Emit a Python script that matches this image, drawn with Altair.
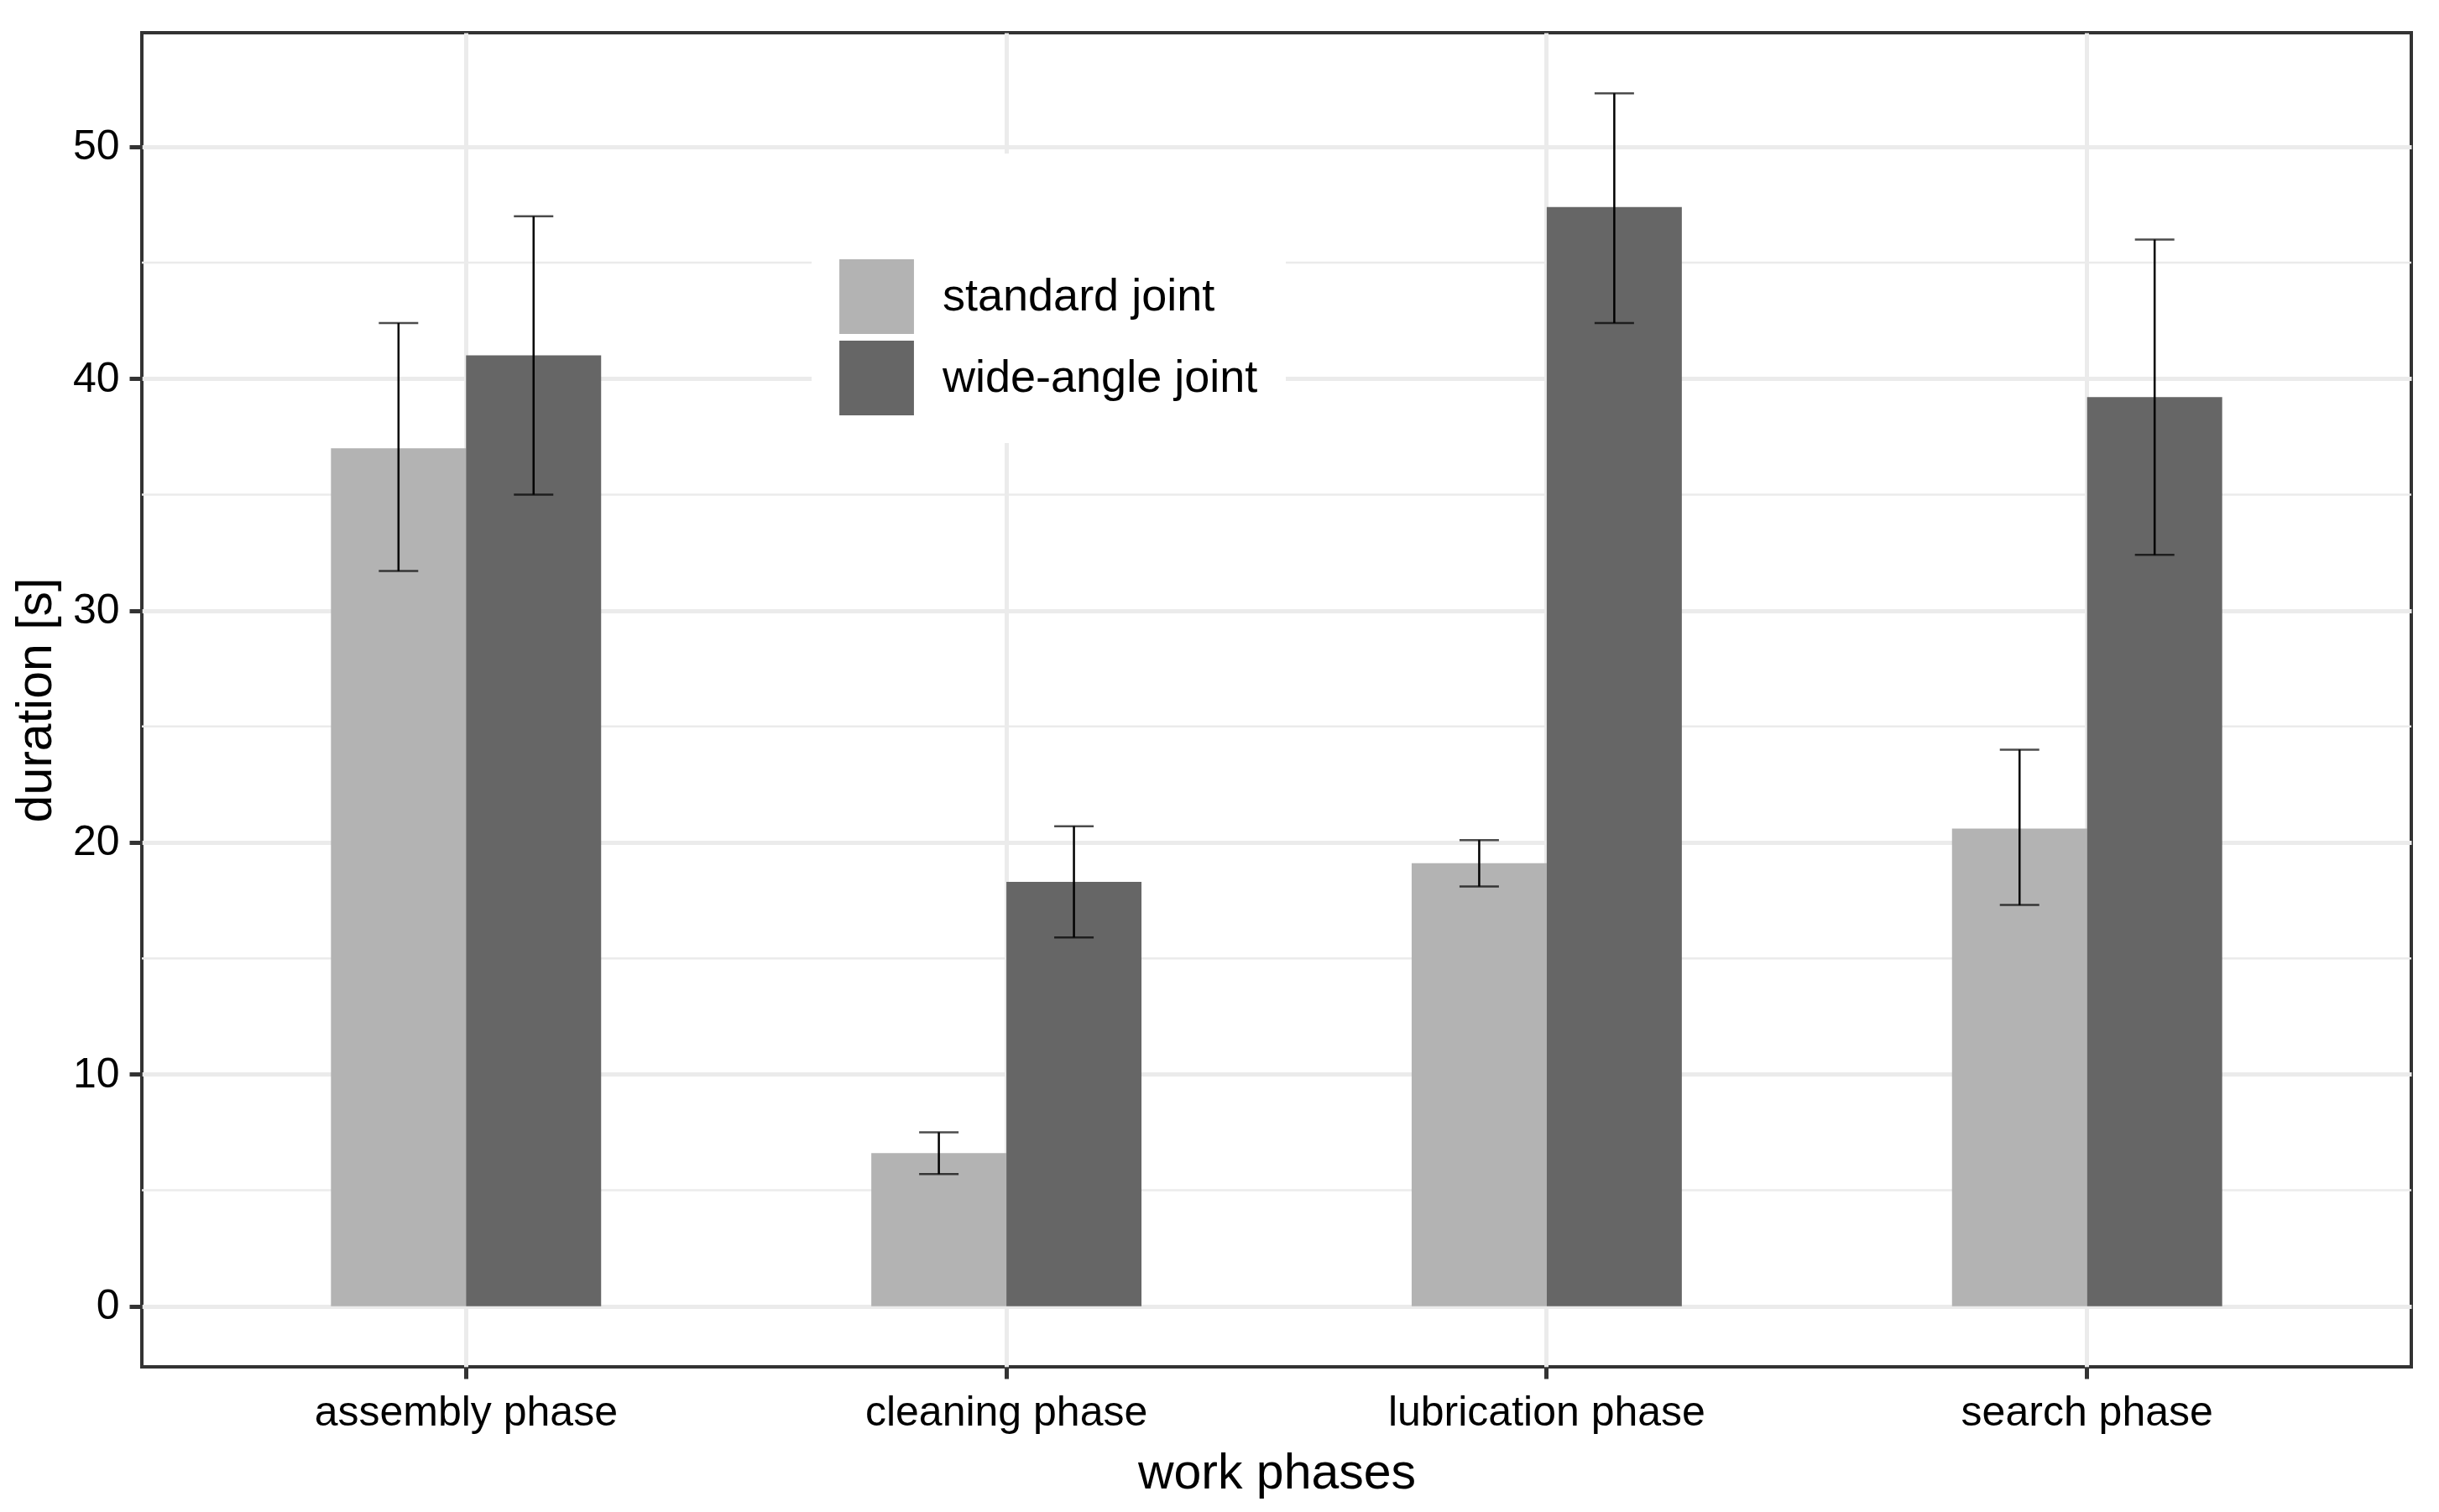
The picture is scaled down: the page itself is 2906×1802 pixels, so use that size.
import altair as alt
import pandas as pd

FONT = "Liberation Sans"

phases = ["assembly phase", "cleaning phase", "lubrication phase", "search phase"]
joints = ["standard joint", "wide-angle joint"]
colors = ["#B3B3B3", "#666666"]

std_mean = [37.0, 6.6, 19.1, 20.6]
std_lo = [31.7, 5.7, 18.1, 17.3]
std_hi = [42.4, 7.5, 20.1, 24.0]

wide_mean = [41.0, 18.3, 47.4, 39.2]
wide_lo = [35.0, 15.9, 42.4, 32.4]
wide_hi = [47.0, 20.7, 52.3, 46.0]

y_major = [0, 10, 20, 30, 40, 50]
y_minor = [5, 15, 25, 35, 45]

rows = []
for i, p in enumerate(phases):
    rows.append({"phase": p, "joint": joints[0], "mean": std_mean[i], "lo": std_lo[i], "hi": std_hi[i]})
    rows.append({"phase": p, "joint": joints[1], "mean": wide_mean[i], "lo": wide_lo[i], "hi": wide_hi[i]})
df = pd.DataFrame(rows)
minor_df = pd.DataFrame({"v": y_minor})

ymax = float(df["hi"].max())
yscale = alt.Scale(domain=[-0.05 * ymax, 1.05 * ymax], nice=False, zero=False)

yaxis = alt.Axis(
    title="duration [s]",
    values=y_major,
    labelFont=FONT, labelFontSize=50, labelColor="black", labelPadding=12,
    tickSize=15, tickWidth=5, tickColor="#333333",
    domain=False,
    grid=True, gridColor="#EBEBEB", gridWidth=5,
    titleFont=FONT, titleFontSize=59, titleFontWeight="normal", titleColor="black",
    titleAngle=270, titleBaseline="alphabetic", titleX=-109, titleY=795, titleAlign="center",
)

xaxis = alt.Axis(
    title="work phases",
    labelAngle=0, labelFont=FONT, labelFontSize=50, labelColor="black",
    labelBaseline="alphabetic", labelPadding=55, labelLimit=2000,
    tickSize=14, tickWidth=5, tickColor="#333333",
    domain=False, bandPosition=0.5,
    grid=True, gridColor="#EBEBEB", gridWidth=5,
    titleFont=FONT, titleFontSize=59, titleFontWeight="normal", titleColor="black",
    titleBaseline="alphabetic", titleY=144,
)

xenc = alt.X("phase:N", sort=phases,
             scale=alt.Scale(type="band", paddingInner=0.5, paddingOuter=0.35),
             axis=xaxis)
xoff = alt.XOffset("joint:N", sort=joints, scale=alt.Scale(paddingInner=0, paddingOuter=0))

minor = alt.Chart(minor_df).mark_rule(color="#EBEBEB", strokeWidth=2.5).encode(
    y=alt.Y("v:Q", scale=yscale, axis=yaxis)
)

bars = alt.Chart(df).mark_bar(strokeWidth=0).encode(
    x=xenc,
    xOffset=xoff,
    y=alt.Y("mean:Q", scale=yscale, axis=yaxis),
    y2=alt.datum(0),
    color=alt.Color(
        "joint:N", sort=joints,
        scale=alt.Scale(domain=joints, range=colors),
        legend=alt.Legend(
            orient="none", legendX=798, legendY=144,
            fillColor="white", padding=33,
            title=" ", titleFontSize=60, titlePadding=33,
            symbolType="square", symbolSize=7900, symbolStrokeWidth=0, symbolOpacity=1,
            labelFont=FONT, labelFontSize=54, labelColor="black", labelOffset=34,
            rowPadding=8, labelLimit=1000,
        ),
    ),
)

rules = alt.Chart(df).mark_rule(color="black", strokeWidth=2.5).encode(
    x=xenc, xOffset=xoff,
    y=alt.Y("lo:Q", scale=yscale, axis=yaxis),
    y2="hi:Q",
)

caps_lo = alt.Chart(df).mark_tick(color="black", size=47, thickness=2.5, orient="horizontal").encode(
    x=xenc, xOffset=xoff,
    y=alt.Y("lo:Q", scale=yscale, axis=yaxis),
)
caps_hi = alt.Chart(df).mark_tick(color="black", size=47, thickness=2.5, orient="horizontal").encode(
    x=xenc, xOffset=xoff,
    y=alt.Y("hi:Q", scale=yscale, axis=yaxis),
)

chart = alt.layer(minor, bars, rules, caps_lo, caps_hi).properties(
    width=2704, height=1590,
    autosize=alt.AutoSizeParams(type="none"),
    padding={"left": 161, "top": 31, "right": 25, "bottom": 160},
).configure_view(stroke="#333333", strokeWidth=4)

chart.save("out.html", embed_options={"renderer": "svg", "actions": False})
